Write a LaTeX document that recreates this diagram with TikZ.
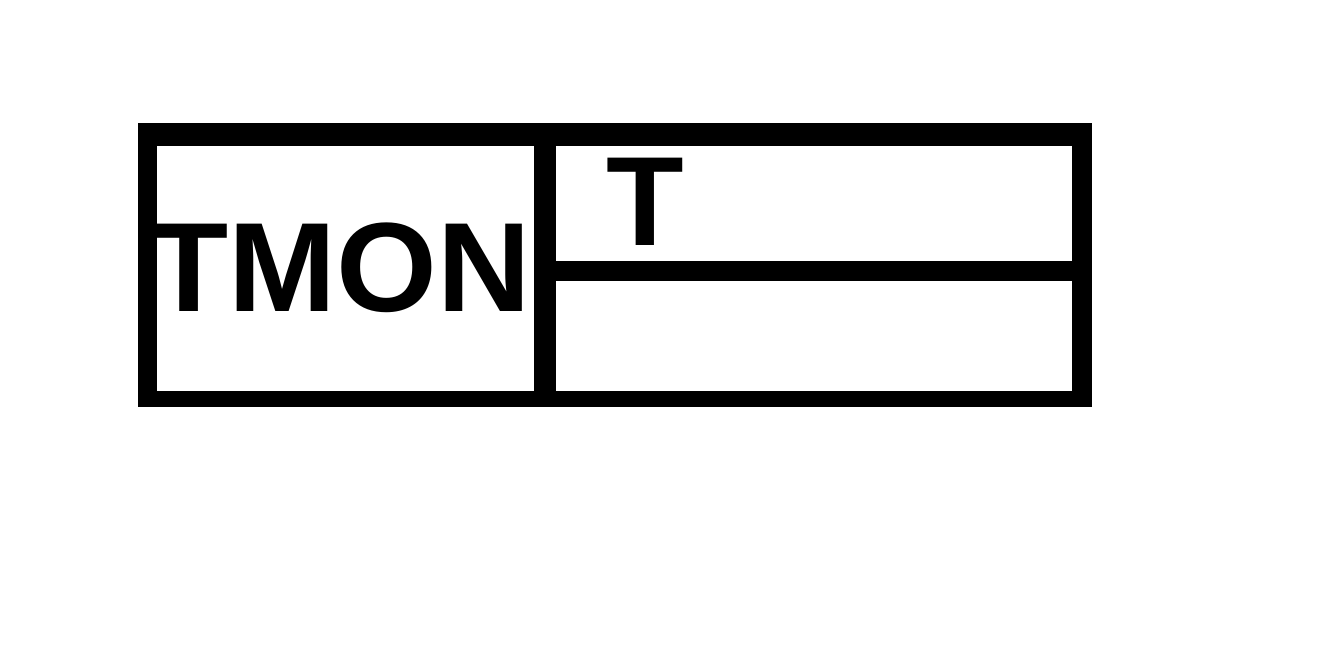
\documentclass[tikz,border=0pt]{standalone}
\usepackage{fontspec}
\usepackage{graphicx}
\setmainfont{Liberation Sans}
\begin{document}
\begin{tikzpicture}[x=1pt,y=-1pt,
  bar/.style={fill=black,draw=none},
  lbl/.style={inner sep=0pt,font=\bfseries\fontsize{127}{127}\selectfont}]
\useasboundingbox (0,0) rectangle (1326,652);
\fill[white] (0,0) rectangle (1326,652);
% frame
\fill[bar] (138,123) rectangle (1092,146);
\fill[bar] (138,391) rectangle (1092,407);
\fill[bar] (138,123) rectangle (157,407);
\fill[bar] (1072,123) rectangle (1092,407);
\fill[bar] (534,146) rectangle (556,391);
\fill[bar] (556,261) rectangle (1072,281);
% texts
\node[lbl] (tmon) at (340,267.5) {\scalebox{1.02}[1]{TMON}};
\node[lbl] (t) at (645,202) {T};
\end{tikzpicture}
\end{document}
